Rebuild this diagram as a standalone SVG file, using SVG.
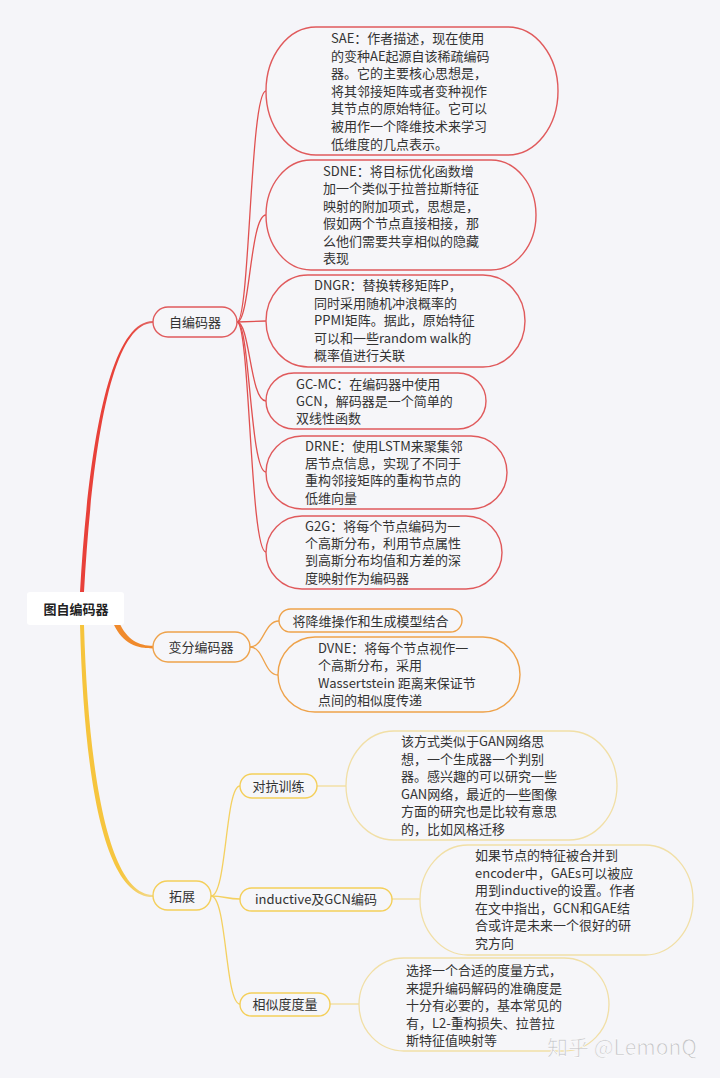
<svg xmlns="http://www.w3.org/2000/svg" width="720" height="1078" viewBox="0 0 720 1078">
<style>
text{font-family:"Noto Sans CJK SC","Noto Sans",sans-serif;font-size:13px;fill:#333}
.c{text-anchor:middle}
.red{fill:#f6f6f9;stroke:#e05a5c;stroke-width:1.4}
.org{fill:#f6f6f9;stroke:#eea24a;stroke-width:1.4}
.yel{fill:#f6f6f9;stroke:#f4cf5a;stroke-width:1.4}
.yl{fill:#f6f6f9;stroke:#f1dfa6;stroke-width:1.3}
.lr{fill:none;stroke:#e05050;stroke-width:1.3}
.lo{fill:none;stroke:#eea24a;stroke-width:1.3}
.ly{fill:none;stroke:#f4d060;stroke-width:1.3}
.lyl{fill:none;stroke:#f1dc9a;stroke-width:1.3}
</style>
<defs>
<linearGradient id="gr" gradientUnits="userSpaceOnUse" x1="82" y1="0" x2="153" y2="0">
<stop offset="0" stop-color="#e8403a"/><stop offset="0.65" stop-color="#e8443a"/><stop offset="1" stop-color="#e06a6a"/>
</linearGradient>
<linearGradient id="gy" gradientUnits="userSpaceOnUse" x1="82" y1="0" x2="153" y2="0">
<stop offset="0" stop-color="#f6c43c"/><stop offset="0.55" stop-color="#f6c640"/><stop offset="1" stop-color="#f2da90"/>
</linearGradient>
</defs>
<rect width="720" height="1078" fill="#f5f5f9"/>
<g id="connectors">
<path d="M80 592 C88 450 109 320.9 153 320.9 L153 323.1 C111 323.1 92 450 84 592 Z" fill="url(#gr)"/>
<path d="M113.5 624 C123 644 137 648.4 153 648.4 L153 645.8 C139 645.8 127 640 119 622 Z" fill="#f08a2c"/>
<path d="M80 625 C84 775 103 897.1 153 897.1 L153 894.9 C107 894.9 88 765 84 625 Z" fill="url(#gy)"/>
<path class="lr" d="M237 322 C250 322 250 91 266 91"/>
<path class="lr" d="M237 322 C250 322 250 215 266 215"/>
<path class="lr" d="M237 322 L266 321"/>
<path class="lr" d="M237 322 C250 322 250 401 266 401"/>
<path class="lr" d="M237 322 C250 322 250 472 266 472"/>
<path class="lr" d="M237 322 C250 322 250 552 266 552"/>
<path class="lo" d="M250 647 C264 647 264 621 279 621"/>
<path class="lo" d="M250 647 C264 647 264 675 278 675"/>
<path class="ly" d="M211 896 C227 896 225 786 240 786"/>
<path class="ly" d="M211 896 C225 896 226 899 240 899"/>
<path class="ly" d="M211 896 C227 896 225 1004 240 1004"/>
<path class="lyl" d="M317 786 L346 786"/>
<path class="lyl" d="M392 899 L420 899"/>
<path class="lyl" d="M330 1004 L359 1004"/>
</g>
<g id="root">
<rect x="27" y="592" width="97" height="33" rx="3" fill="#ffffff"/>
<text class="c" x="76" y="614" style="font-weight:bold;fill:#222">图自编码器</text>
</g>
<g id="autoenc">
<rect class="red" x="153" y="307" width="84" height="30" rx="15"/>
<text class="c" x="195" y="327">自编码器</text>
</g>
<g id="sae">
<rect class="red" x="266" y="27" width="292" height="128" rx="50" ry="64"/>
<text x="331" y="43">SAE：作者描述，现在使用</text>
<text x="331" y="60.6">的变种AE起源自该稀疏编码</text>
<text x="331" y="78.2">器。它的主要核心思想是，</text>
<text x="331" y="95.8">将其邻接矩阵或者变种视作</text>
<text x="331" y="113.4">其节点的原始特征。它可以</text>
<text x="331" y="131">被用作一个降维技术来学习</text>
<text x="331" y="148.6">低维度的几点表示。</text>
</g>
<g id="sdne">
<rect class="red" x="266" y="160" width="270" height="110" rx="45" ry="55"/>
<text x="323" y="176">SDNE：将目标优化函数增</text>
<text x="323" y="193.4">加一个类似于拉普拉斯特征</text>
<text x="323" y="210.8">映射的附加项式，思想是，</text>
<text x="323" y="228.2">假如两个节点直接相接，那</text>
<text x="323" y="245.6">么他们需要共享相似的隐藏</text>
<text x="323" y="263">表现</text>
</g>
<g id="dngr">
<rect class="red" x="266" y="275" width="259" height="92" rx="42" ry="46"/>
<text x="314" y="290">DNGR：替换转移矩阵P，</text>
<text x="314" y="307.6">同时采用随机冲浪概率的</text>
<text x="314" y="325.2">PPMI矩阵。据此，原始特征</text>
<text x="314" y="342.8">可以和一些random walk的</text>
<text x="314" y="360.4">概率值进行关联</text>
</g>
<g id="gcmc">
<rect class="red" x="266" y="373" width="220" height="56" rx="28"/>
<text x="296" y="388.5">GC-MC：在编码器中使用</text>
<text x="296" y="405.8">GCN，解码器是一个简单的</text>
<text x="296" y="423">双线性函数</text>
</g>
<g id="drne">
<rect class="red" x="266" y="436" width="241" height="73" rx="36" ry="36.5"/>
<text x="305" y="450.7">DRNE：使用LSTM来聚集邻</text>
<text x="305" y="468">居节点信息，实现了不同于</text>
<text x="305" y="485.3">重构邻接矩阵的重构节点的</text>
<text x="305" y="502.6">低维向量</text>
</g>
<g id="g2g">
<rect class="red" x="266" y="516" width="236" height="73" rx="36" ry="36.5"/>
<text x="305" y="531">G2G：将每个节点编码为一</text>
<text x="305" y="548.2">个高斯分布，利用节点属性</text>
<text x="305" y="565.4">到高斯分布均值和方差的深</text>
<text x="305" y="582.6">度映射作为编码器</text>
</g>
<g id="vae">
<rect class="org" x="153" y="632" width="97" height="30" rx="15"/>
<text class="c" x="201" y="652">变分编码器</text>
</g>
<g id="vae-combine">
<rect class="org" x="279" y="609" width="183" height="23" rx="11.5"/>
<text class="c" x="370.5" y="625.5">将降维操作和生成模型结合</text>
</g>
<g id="dvne">
<rect class="org" x="278" y="637" width="242" height="75" rx="37" ry="37.5"/>
<text x="318" y="653">DVNE：将每个节点视作一</text>
<text x="318" y="670.3">个高斯分布，采用</text>
<text x="318" y="687.6">Wassertstein 距离来保证节</text>
<text x="318" y="704.9">点间的相似度传递</text>
</g>
<g id="extend">
<rect class="yel" x="153" y="881" width="58" height="29" rx="14.5"/>
<text class="c" x="182" y="900.5">拓展</text>
</g>
<g id="adv">
<rect class="yel" x="240" y="774" width="77" height="24" rx="12"/>
<text class="c" x="278.5" y="790.5">对抗训练</text>
</g>
<g id="adv-desc">
<rect class="yl" x="346" y="731" width="271" height="109" rx="48" ry="54.5"/>
<text x="401" y="746">该方式类似于GAN网络思</text>
<text x="401" y="763.6">想，一个生成器一个判别</text>
<text x="401" y="781.2">器。感兴趣的可以研究一些</text>
<text x="401" y="798.8">GAN网络，最近的一些图像</text>
<text x="401" y="816.4">方面的研究也是比较有意思</text>
<text x="401" y="834">的，比如风格迁移</text>
</g>
<g id="inductive">
<rect class="yel" x="240" y="888" width="152" height="23" rx="11.5"/>
<text class="c" x="316" y="904">inductive及GCN编码</text>
</g>
<g id="inductive-desc">
<rect class="yl" x="420" y="845" width="273" height="110" rx="48" ry="55"/>
<text x="475" y="860">如果节点的特征被合并到</text>
<text x="475" y="877.6">encoder中，GAEs可以被应</text>
<text x="475" y="895.2">用到inductive的设置。作者</text>
<text x="475" y="912.8">在文中指出，GCN和GAE结</text>
<text x="475" y="930.4">合或许是未来一个很好的研</text>
<text x="475" y="948">究方向</text>
</g>
<g id="similarity">
<rect class="yel" x="240" y="993" width="90" height="23" rx="11.5"/>
<text class="c" x="285" y="1009">相似度度量</text>
</g>
<g id="similarity-desc">
<rect class="yl" x="359" y="958" width="250" height="93" rx="45" ry="46.5"/>
<text x="406" y="975">选择一个合适的度量方式，</text>
<text x="406" y="992.5">来提升编码解码的准确度是</text>
<text x="406" y="1010">十分有必要的，基本常见的</text>
<text x="406" y="1027.5">有，L2-重构损失、拉普拉</text>
<text x="406" y="1045">斯特征值映射等</text>
</g>
<g id="watermark">
<text x="547" y="1055" style="font-size:21px;fill:#c4c4c8;stroke:#ffffff;stroke-width:0.6">知乎 @LemonQ</text>
</g>
</svg>
